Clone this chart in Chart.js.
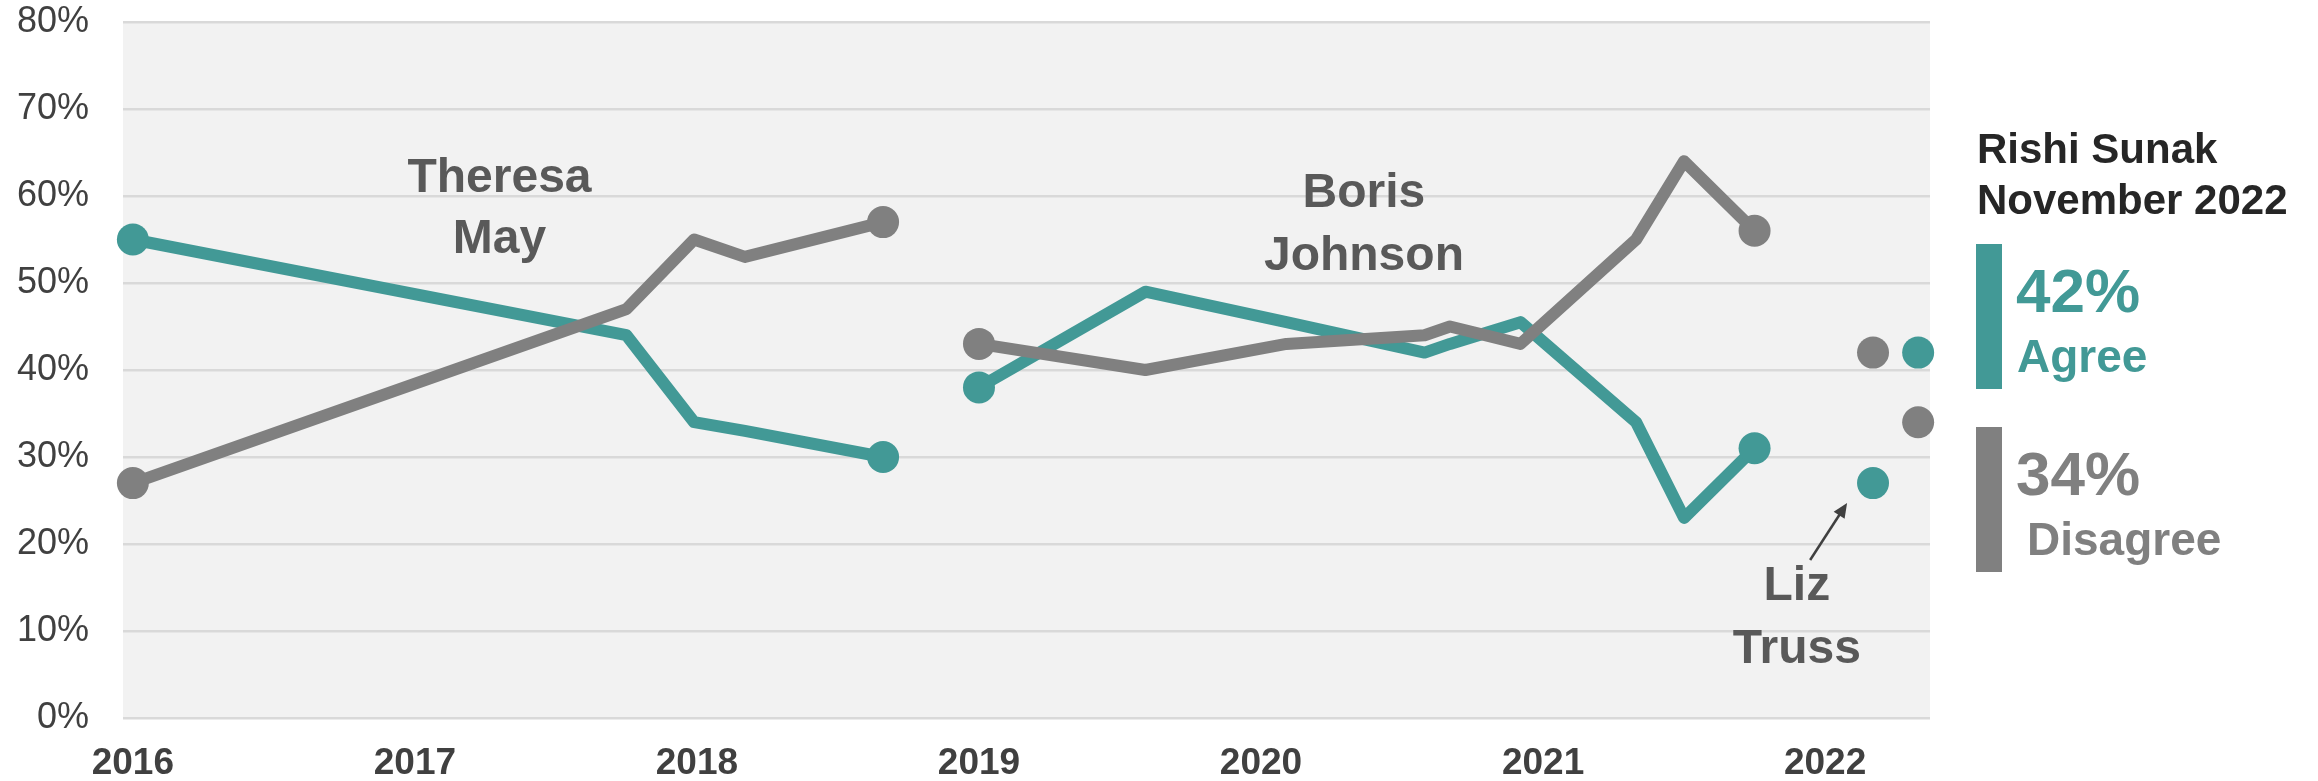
<!DOCTYPE html>
<html>
<head>
<meta charset="utf-8">
<script src="https://cdn.jsdelivr.net/npm/chart.js@4.4.1/dist/chart.umd.min.js"></script>
<style>
  html, body { margin: 0; padding: 0; background: #fff; }
  #wrap { width: 2318px; height: 781px; }
</style>
</head>
<body>
<div id="wrap"><canvas id="chart" width="2318" height="781"></canvas></div>
<script>
// survey dates as fractional years
const mayDates = [2016.0, 2017.75, 2017.99, 2018.17, 2018.66];
const mayAgree = [55, 44, 34, 33, 30];
const mayDisagree = [27, 47, 55, 53, 57];

const johnsonDates = [2019.0, 2019.59, 2020.09, 2020.58, 2020.67, 2020.92, 2021.33, 2021.5, 2021.75];
const johnsonAgree = [38, 49, 45.5, 42, 43, 45.5, 34, 23, 31];
const johnsonDisagree = [43, 40, 43, 44, 45, 43, 55, 64, 56];

const trussDates = [2022.17];
const trussAgree = [27];
const trussDisagree = [42];

const sunakDates = [2022.33];
const sunakAgree = [42];
const sunakDisagree = [34];

const yearTicks = [2016, 2017, 2018, 2019, 2020, 2021, 2022];
const percentTicks = [0, 10, 20, 30, 40, 50, 60, 70, 80];

const TEAL = '#429996';
const GREY = '#808080';
const FONT = '"Liberation Sans", Arial, sans-serif';

const toPoints = (xs, ys) => xs.map((x, i) => ({ x: x, y: ys[i] }));

// dots only at both ends of each premiership
const endDot = ctx => {
  const n = ctx.dataset.data.length;
  return (ctx.dataIndex === 0 || ctx.dataIndex === n - 1) ? 16 : 0;
};

function series(label, xs, ys, colour) {
  return {
    label: label,
    data: toPoints(xs, ys),
    borderColor: colour,
    backgroundColor: colour,
    borderWidth: 12,
    borderJoinStyle: 'round',
    pointRadius: endDot,
    pointHoverRadius: endDot,
    pointBorderWidth: 0,
    tension: 0,
    clip: false
  };
}

const plotBackground = {
  id: 'plotBackground',
  beforeDraw(chart) {
    const { ctx, chartArea: a } = chart;
    ctx.save();
    ctx.fillStyle = '#F2F2F2';
    ctx.fillRect(a.left, a.top, a.right - a.left, a.bottom - a.top);
    ctx.restore();
  }
};

// name labels placed in data space
const nameLabels = [
  { lines: ['Theresa', 'May'], x: 2017.30, y: [60.46, 53.45] },
  { lines: ['Boris', 'Johnson'], x: 2020.365, y: [58.74, 51.49] },
  { lines: ['Liz', 'Truss'], x: 2021.90, y: [13.56, 6.32] }
];

const annotations = {
  id: 'annotations',
  afterDatasetsDraw(chart) {
    const { ctx, scales: { x, y } } = chart;
    ctx.save();
    ctx.font = 'bold 48px ' + FONT;
    ctx.fillStyle = '#595959';
    ctx.textAlign = 'center';
    ctx.textBaseline = 'alphabetic';
    nameLabels.forEach(l => {
      l.lines.forEach((t, i) => ctx.fillText(t, x.getPixelForValue(l.x), y.getPixelForValue(l.y[i])));
    });

    // arrow pointing at the Truss agree dot
    const x0 = x.getPixelForValue(2021.947), y0 = y.getPixelForValue(18.16);
    const x1 = x.getPixelForValue(2022.078), y1 = y.getPixelForValue(24.71);
    const ang = Math.atan2(y1 - y0, x1 - x0);
    const head = 16;
    ctx.strokeStyle = '#404040';
    ctx.fillStyle = '#404040';
    ctx.lineWidth = 2.5;
    ctx.beginPath();
    ctx.moveTo(x0, y0);
    ctx.lineTo(x1 - Math.cos(ang) * head * 0.8, y1 - Math.sin(ang) * head * 0.8);
    ctx.stroke();
    ctx.beginPath();
    ctx.moveTo(x1, y1);
    ctx.lineTo(x1 - head * Math.cos(ang - 0.42), y1 - head * Math.sin(ang - 0.42));
    ctx.lineTo(x1 - head * Math.cos(ang + 0.42), y1 - head * Math.sin(ang + 0.42));
    ctx.closePath();
    ctx.fill();
    ctx.restore();
  }
};

// the Sunak summary on the right
const sidePanel = {
  id: 'sidePanel',
  afterDraw(chart) {
    const ctx = chart.ctx;
    ctx.save();
    ctx.textAlign = 'left';
    ctx.textBaseline = 'alphabetic';
    ctx.fillStyle = '#262626';
    ctx.font = 'bold 42px ' + FONT;
    ctx.fillText('Rishi Sunak', 1977, 163);
    ctx.fillText('November 2022', 1977, 214);

    ctx.fillStyle = TEAL;
    ctx.fillRect(1976, 244, 26, 145);
    ctx.font = 'bold 62px ' + FONT;
    ctx.fillText(sunakAgree[0] + '%', 2016, 312);
    ctx.font = 'bold 46px ' + FONT;
    ctx.fillText('Agree', 2017, 372);

    ctx.fillStyle = GREY;
    ctx.fillRect(1976, 427, 26, 145);
    ctx.font = 'bold 62px ' + FONT;
    ctx.fillText(sunakDisagree[0] + '%', 2016, 495);
    ctx.font = 'bold 46px ' + FONT;
    ctx.fillText('Disagree', 2027, 555);
    ctx.restore();
  }
};

new Chart(document.getElementById('chart').getContext('2d'), {
  type: 'line',
  data: {
    datasets: [
      series('May disagree', mayDates, mayDisagree, GREY),
      series('Johnson disagree', johnsonDates, johnsonDisagree, GREY),
      series('Truss disagree', trussDates, trussDisagree, GREY),
      series('Sunak disagree', sunakDates, sunakDisagree, GREY),
      series('May agree', mayDates, mayAgree, TEAL),
      series('Johnson agree', johnsonDates, johnsonAgree, TEAL),
      series('Truss agree', trussDates, trussAgree, TEAL),
      series('Sunak agree', sunakDates, sunakAgree, TEAL)
    ]
  },
  options: {
    responsive: false,
    animation: false,
    devicePixelRatio: 1,
    layout: { padding: { left: 0, right: 388, top: 22, bottom: 0 } },
    plugins: {
      legend: { display: false },
      tooltip: { enabled: false }
    },
    scales: {
      x: {
        type: 'linear',
        min: 2015.965,
        max: 2022.372,
        afterBuildTicks: s => { s.ticks = yearTicks.map(v => ({ value: v })); },
        afterFit: s => { s.height = 63; s.paddingLeft = 0; s.paddingRight = 0; },
        grid: { display: false, drawTicks: false },
        border: { display: false },
        ticks: {
          padding: 24,
          maxRotation: 0,
          autoSkip: false,
          color: '#404040',
          font: { family: FONT, size: 37, weight: 'bold' },
          callback: v => String(v)
        }
      },
      y: {
        min: 0,
        max: 80,
        afterBuildTicks: s => { s.ticks = percentTicks.map(v => ({ value: v })); },
        afterFit: s => { s.width = 123; s.paddingTop = 0; s.paddingBottom = 0; },
        grid: { color: '#D9D9D9', lineWidth: 2.5, drawTicks: false },
        border: { display: false },
        ticks: {
          padding: 34,
          color: '#404040',
          font: { family: FONT, size: 36 },
          callback: v => v + '%'
        }
      }
    }
  },
  plugins: [plotBackground, annotations, sidePanel]
});
</script>
</body>
</html>
